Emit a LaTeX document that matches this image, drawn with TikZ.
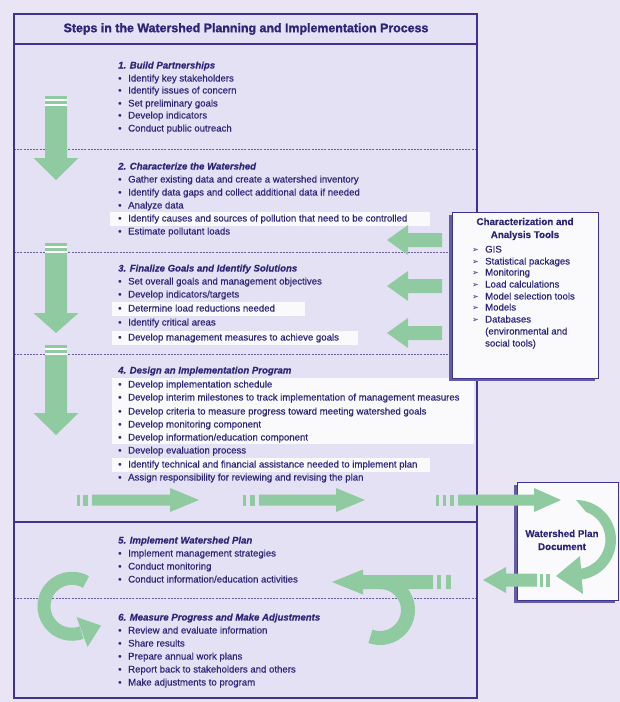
\documentclass[tikz,border=0pt]{standalone}
\usepackage{fontspec}
\setmainfont{Liberation Sans}[FakeBold=0.5]
\newfontfamily\ttlf{Liberation Sans Bold}[FakeBold=1.6]
\newfontfamily\symf{DejaVu Sans}
\definecolor{bg}{RGB}{233,229,245}
\definecolor{boxbg}{RGB}{229,225,244}
\definecolor{navy}{RGB}{45,38,120}
\definecolor{bord}{RGB}{62,52,142}
\definecolor{grn}{RGB}{143,202,160}
\definecolor{hl}{RGB}{250,250,253}
\definecolor{dsh}{RGB}{105,95,155}
\newcommand{\itm}[3]{\node[itm] (#1) at (118,#2) {\makebox[10pt][l]{\textbullet}#3};}
\newcommand{\hdr}[3]{\node[hdr] (#1) at (118,#2) {#3};}
\newcommand{\tl}[3]{\node[tool] (#1) at (472,#2) {\makebox[13pt][l]{\symf\fontsize{8}{9}\selectfont ➢}#3};}
% down arrow: cx, stripe top, head base, tip
\newcommand{\dnarr}[4]{%
 \fill[white] (#1-11,#2) rectangle (#1+11,#2+10);
 \fill[grn] (#1-11,#2) rectangle (#1+11,#2+3);
 \fill[grn] (#1-11,#2+5) rectangle (#1+11,#2+8);
 \fill[grn] (#1-11,#2+10) -- (#1+11,#2+10) -- (#1+11,#3) -- (#1+22.5,#3) -- (#1,#4) -- (#1-22.5,#3) -- (#1-11,#3) -- cycle;}
% horizontal arrow: y, shaft end (tail), head base, tip, shaft half, head half
\newcommand{\harr}[6]{%
 \fill[grn] (#2,#1-#5) -- (#3,#1-#5) -- (#3,#1-#6) -- (#4,#1) -- (#3,#1+#6) -- (#3,#1+#5) -- (#2,#1+#5) -- cycle;}
% bar: y, x1, x2, half
\newcommand{\gbar}[4]{\fill[grn] (#2,#1-#4) rectangle (#3,#1+#4);}
\begin{document}
\begin{tikzpicture}[x=1pt,y=-1pt,
 itm/.style={anchor=west,inner sep=0pt,text=navy,font=\fontsize{9.6}{11}\selectfont,text height=7pt,text depth=2pt},
 hdr/.style={itm,font=\fontsize{9.6}{11}\selectfont\bfseries\itshape},
 ttl/.style={inner sep=0pt,text=navy,font=\ttlf\fontsize{12.4}{14}\selectfont},
 bx/.style={inner sep=0pt,text=navy,font=\fontsize{9.8}{13}\selectfont\bfseries,align=center},
 tool/.style={anchor=west,inner sep=0pt,text=navy,font=\fontsize{9.6}{11}\selectfont,text height=7pt,text depth=2pt},
 sep/.style={draw=dsh,line width=0.8pt,dash pattern=on 2pt off 1.2pt},
 frame/.style={draw=bord,line width=1.8pt},
 panel/.style={draw=bord,line width=1.3pt,fill=hl,inner sep=0pt,anchor=north west},
 ]
\useasboundingbox (0,0) rectangle (620,702);
\fill[bg] (0,0) rectangle (620,702);
\fill[boxbg] (14,14) rectangle (477,698);
% highlight bands
\fill[hl] (110,212) rectangle (430,226);
\fill[hl] (112,302) rectangle (305,316);
\fill[hl] (112,331) rectangle (358,345);
\fill[hl] (112,378) rectangle (474,444);
\fill[hl] (112,458) rectangle (430,472);
% separators
\draw[sep] (14,149) -- (477,149);
\draw[sep] (14,252) -- (477,252);
\draw[sep] (14,354) -- (477,354);
\draw[sep] (14,598) -- (477,598);
\draw[frame] (14,44) -- (477,44);
\draw[frame] (14,522) -- (477,522);
% down arrows
\dnarr{56}{96}{158}{180}
\dnarr{56}{243}{313}{333}
\dnarr{56}{345}{413}{435}
% left arrows from tools box
\harr{240}{442}{408}{387}{7}{15}
\harr{286}{442}{408}{387}{7}{15}
\harr{333}{442}{408}{387}{7}{15}
% right arrows row
\gbar{500}{77}{80}{5.5}\gbar{500}{83}{88}{5.5}
\harr{500}{92}{170}{199}{5.5}{12}
\gbar{500}{243}{246}{5.5}\gbar{500}{250}{255}{5.5}
\harr{500}{259}{336}{365}{5.5}{12}
% section 5 left arrow with hook
\gbar{582}{437}{441}{7}\gbar{582}{446}{451}{7}
\harr{582}{433}{363}{332}{7}{12.5}
\draw[grn,line width=14pt] (380,582) arc[start angle=-90,end angle=110,radius=28];
% left C arrow
\draw[grn,line width=13pt] (86,582) arc[start angle=-60,end angle=-290,radius=28];
\fill[grn] (76.5,617) -- (101,625.5) -- (87.5,647) -- cycle;
% texts
\node[ttl] (title) at (246,29) {Steps in the Watershed Planning and Implementation Process};
\hdr{h1}{66}{1. Build Partnerships}
\itm{a1}{79}{Identify key stakeholders}
\itm{a2}{91}{Identify issues of concern}
\itm{a3}{104}{Set preliminary goals}
\itm{a4}{116}{Develop indicators}
\itm{a5}{129}{Conduct public outreach}
\hdr{h2}{167}{2. Characterize the Watershed}
\itm{b1}{180}{Gather existing data and create a watershed inventory}
\itm{b2}{193}{Identify data gaps and collect additional data if needed}
\itm{b3}{206}{Analyze data}
\itm{b4}{219}{Identify causes and sources of pollution that need to be controlled}
\itm{b5}{232}{Estimate pollutant loads}
\hdr{h3}{269}{3. Finalize Goals and Identify Solutions}
\itm{c1}{282}{Set overall goals and management objectives}
\itm{c2}{295}{Develop indicators/targets}
\itm{c3}{309}{Determine load reductions needed}
\itm{c4}{323}{Identify critical areas}
\itm{c5}{338}{Develop management measures to achieve goals}
\hdr{h4}{371}{4. Design an Implementation Program}
\itm{d1}{385}{Develop implementation schedule}
\itm{d2}{398}{Develop interim milestones to track implementation of management measures}
\itm{d3}{412}{Develop criteria to measure progress toward meeting watershed goals}
\itm{d4}{425}{Develop monitoring component}
\itm{d5}{438}{Develop information/education component}
\itm{d6}{451}{Develop evaluation process}
\itm{d7}{465}{Identify technical and financial assistance needed to implement plan}
\itm{d8}{478}{Assign responsibility for reviewing and revising the plan}
\hdr{h5}{541}{5. Implement Watershed Plan}
\itm{e1}{554}{Implement management strategies}
\itm{e2}{567}{Conduct monitoring}
\itm{e3}{580}{Conduct information/education activities}
\hdr{h6}{618}{6. Measure Progress and Make Adjustments}
\itm{f1}{631}{Review and evaluate information}
\itm{f2}{644}{Share results}
\itm{f3}{657}{Prepare annual work plans}
\itm{f4}{670}{Report back to stakeholders and others}
\itm{f5}{683}{Make adjustments to program}
% main frame
\draw[frame] (14,14) rectangle (477,698);
% tools box
\fill[bord!80] (449,215) rectangle (595,381);
\node[panel,minimum width=146pt,minimum height=166pt] (tools) at (452,212) {};
\node[bx] (toolsttl) at (525,229) {Characterization and\\Analysis Tools};
\tl{t1}{250}{GIS}
\tl{t2}{262}{Statistical packages}
\tl{t3}{273}{Monitoring}
\tl{t4}{285}{Load calculations}
\tl{t5}{297}{Model selection tools}
\tl{t6}{308}{Models}
\tl{t7}{320}{Databases}
\node[tool] (t8) at (485,332) {(environmental and};
\node[tool] (t9) at (485,344) {social tools)};
% watershed plan document box
\fill[bord!80] (514,485) rectangle (615,603);
\node[panel,minimum width=101pt,minimum height=118pt] (plan) at (517,482) {};
\node[bx] (planttl) at (562,540) {Watershed Plan\\Document};
% arrows touching the plan box
\gbar{500}{436}{439}{5.5}\gbar{500}{443}{446}{5.5}\gbar{500}{450}{454}{5.5}
\harr{500}{458}{534}{561}{5.5}{12}
\fill[grn] (576,500) arc[start angle=-90,end angle=85,radius=40] -- (578.5,569) arc[start angle=85,end angle=-70,radius=29.5] -- cycle;
\fill[grn] (580,556) -- (556,576) -- (583,594) -- cycle;
\gbar{580}{540}{543}{6.5}\gbar{580}{546}{550}{6.5}
\harr{580}{537}{506}{483}{6.5}{13}
\end{tikzpicture}
\end{document}
